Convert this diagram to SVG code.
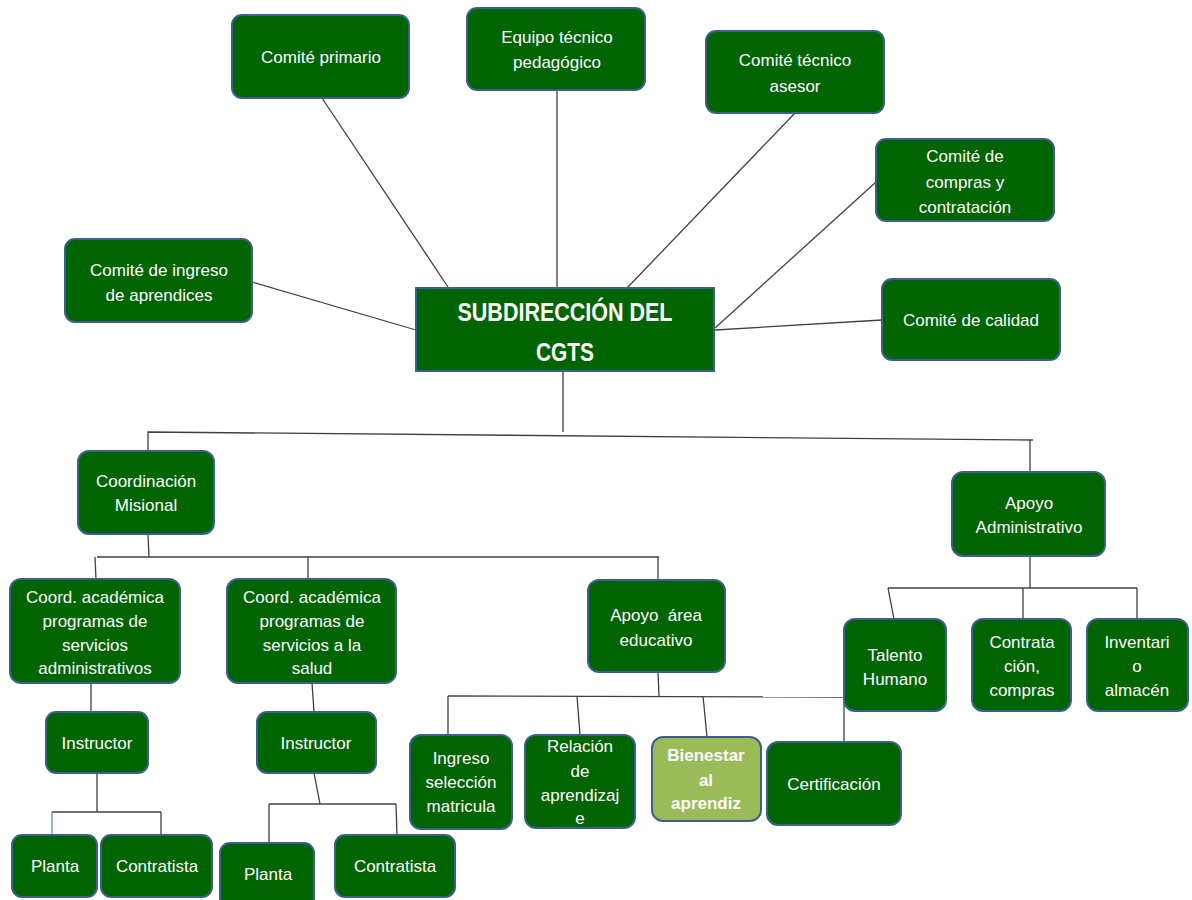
<svg xmlns="http://www.w3.org/2000/svg" width="1192" height="900" viewBox="0 0 1192 900">
<style>
.n{fill:#006400;stroke:#3b5f8f;stroke-width:2}
.b{fill:#9bbb59;stroke:#3b5f8f;stroke-width:2}
.t{font-family:"Liberation Sans",Arial,sans-serif;font-size:17px;fill:#ffffff;text-anchor:middle}
.tb{font-weight:bold}
.h{font-family:"Liberation Sans",Arial,sans-serif;font-size:25px;font-weight:bold;fill:#ffffff;text-anchor:middle}
#connectors line,#connectors polyline{stroke:#404040;stroke-width:1.3;fill:none}
</style>
<rect width="1192" height="900" fill="#ffffff"/>
<g id="connectors">
<line x1="322" y1="98" x2="448" y2="287"/>
<line x1="557" y1="90" x2="557" y2="288"/>
<line x1="795" y1="113" x2="627" y2="288"/>
<line x1="876" y1="182" x2="715" y2="328"/>
<line x1="882" y1="320" x2="715" y2="330"/>
<line x1="252" y1="282" x2="416" y2="330"/>
<line x1="563" y1="372" x2="563" y2="432"/>
<polyline points="148,451 148,432 1033,440"/>
<line x1="1030" y1="440" x2="1030" y2="472"/>
<line x1="148" y1="534" x2="149" y2="557"/>
<line x1="97" y1="557" x2="659" y2="557"/>
<line x1="95" y1="557" x2="96" y2="579"/>
<line x1="308" y1="557" x2="308" y2="579"/>
<line x1="658" y1="557" x2="658" y2="580"/>
<line x1="91" y1="683" x2="91" y2="712"/>
<line x1="97" y1="773" x2="97" y2="812"/>
<line x1="52" y1="812" x2="161" y2="812"/>
<line x1="52" y1="812" x2="52" y2="835" style="stroke:#5b8fd0"/>
<line x1="161" y1="812" x2="161" y2="835"/>
<line x1="312" y1="683" x2="314" y2="712"/>
<line x1="314" y1="773" x2="320" y2="804"/>
<line x1="269" y1="804" x2="396" y2="804"/>
<line x1="269" y1="804" x2="269" y2="843"/>
<line x1="396" y1="804" x2="397" y2="835"/>
<line x1="658" y1="672" x2="659" y2="696"/>
<line x1="448" y1="696" x2="844" y2="697"/>
<line x1="448" y1="696" x2="448" y2="735"/>
<line x1="577" y1="696" x2="580" y2="735"/>
<line x1="703" y1="696" x2="707" y2="737"/>
<line x1="844" y1="697" x2="844" y2="742"/>
<line x1="1030" y1="556" x2="1030" y2="588"/>
<line x1="888" y1="588" x2="1137" y2="588"/>
<line x1="888" y1="588" x2="894" y2="619"/>
<line x1="1023" y1="588" x2="1023" y2="619"/>
<line x1="1137" y1="588" x2="1137" y2="619"/>
</g>
<g id="comite-primario"><rect class="n" x="232" y="15" width="177" height="83" rx="10"/><text class="t" x="321" y="63">Comité primario</text></g>
<g id="equipo-tecnico"><rect class="n" x="467" y="8" width="178" height="82" rx="10"/><text class="t" x="557" y="43">Equipo técnico</text><text class="t" x="557" y="68">pedagógico</text></g>
<g id="comite-tecnico"><rect class="n" x="706" y="31" width="178" height="82" rx="10"/><text class="t" x="795" y="66">Comité técnico</text><text class="t" x="795" y="92">asesor</text></g>
<g id="comite-compras"><rect class="n" x="876" y="139" width="178" height="82" rx="10"/><text class="t" x="965" y="162">Comité de</text><text class="t" x="965" y="188">compras y</text><text class="t" x="965" y="213">contratación</text></g>
<g id="comite-calidad"><rect class="n" x="882" y="279" width="178" height="81" rx="10"/><text class="t" x="971" y="326">Comité de calidad</text></g>
<g id="comite-ingreso"><rect class="n" x="65" y="239" width="187" height="83" rx="10"/><text class="t" x="159" y="276">Comité de ingreso</text><text class="t" x="159" y="301">de aprendices</text></g>
<g id="subdireccion"><rect class="n" x="416" y="288" width="298" height="83" rx="0"/><text class="h" x="565" y="321" textLength="215" lengthAdjust="spacingAndGlyphs">SUBDIRECCIÓN DEL</text><text class="h" x="565" y="361" textLength="58" lengthAdjust="spacingAndGlyphs">CGTS</text></g>
<g id="coord-misional"><rect class="n" x="78" y="451" width="136" height="83" rx="11"/><text class="t" x="146" y="487">Coordinación</text><text class="t" x="146" y="511">Misional</text></g>
<g id="apoyo-administrativo"><rect class="n" x="952" y="472" width="153" height="84" rx="11"/><text class="t" x="1029" y="509">Apoyo</text><text class="t" x="1029" y="533">Administrativo</text></g>
<g id="coord-adm"><rect class="n" x="10" y="579" width="170" height="104" rx="11"/><text class="t" x="95" y="603">Coord. académica</text><text class="t" x="95" y="627">programas de</text><text class="t" x="95" y="651">servicios</text><text class="t" x="95" y="674">administrativos</text></g>
<g id="coord-salud"><rect class="n" x="227" y="579" width="169" height="104" rx="11"/><text class="t" x="312" y="603">Coord. académica</text><text class="t" x="312" y="627">programas de</text><text class="t" x="312" y="651">servicios a la</text><text class="t" x="312" y="674">salud</text></g>
<g id="apoyo-educativo"><rect class="n" x="588" y="580" width="137" height="92" rx="11"/><text class="t" x="656" y="621" style="white-space:pre">Apoyo  área</text><text class="t" x="656" y="646">educativo</text></g>
<g id="talento-humano"><rect class="n" x="844" y="619" width="102" height="92" rx="11"/><text class="t" x="895" y="661">Talento</text><text class="t" x="895" y="685">Humano</text></g>
<g id="contratacion"><rect class="n" x="972" y="619" width="99" height="92" rx="11"/><text class="t" x="1022" y="648">Contrata</text><text class="t" x="1022" y="672">ción,</text><text class="t" x="1022" y="696">compras</text></g>
<g id="inventario"><rect class="n" x="1087" y="619" width="101" height="92" rx="11"/><text class="t" x="1137" y="648">Inventari</text><text class="t" x="1137" y="672">o</text><text class="t" x="1137" y="696">almacén</text></g>
<g id="instructor-1"><rect class="n" x="46" y="712" width="102" height="61" rx="10"/><text class="t" x="97" y="749">Instructor</text></g>
<g id="instructor-2"><rect class="n" x="257" y="712" width="119" height="61" rx="10"/><text class="t" x="316" y="749">Instructor</text></g>
<g id="ingreso"><rect class="n" x="410" y="735" width="102" height="94" rx="11"/><text class="t" x="461" y="764">Ingreso</text><text class="t" x="461" y="788">selección</text><text class="t" x="461" y="812">matricula</text></g>
<g id="relacion"><rect class="n" x="525" y="735" width="110" height="93" rx="11"/><text class="t" x="580" y="752">Relación</text><text class="t" x="580" y="777">de</text><text class="t" x="580" y="801">aprendizaj</text><text class="t" x="580" y="824">e</text></g>
<g id="bienestar"><rect class="b" x="652" y="737" width="109" height="84" rx="11"/><text class="t tb" x="706" y="761">Bienestar</text><text class="t tb" x="706" y="786">al</text><text class="t tb" x="706" y="809">aprendiz</text></g>
<g id="certificacion"><rect class="n" x="767" y="742" width="134" height="83" rx="11"/><text class="t" x="834" y="790">Certificación</text></g>
<g id="planta-1"><rect class="n" x="12" y="835" width="85" height="62" rx="10"/><text class="t" x="55" y="872">Planta</text></g>
<g id="contratista-1"><rect class="n" x="101" y="835" width="111" height="62" rx="10"/><text class="t" x="157" y="872">Contratista</text></g>
<g id="planta-2"><rect class="n" x="220" y="843" width="94" height="70" rx="10"/><text class="t" x="268" y="880">Planta</text></g>
<g id="contratista-2"><rect class="n" x="335" y="835" width="120" height="62" rx="10"/><text class="t" x="395" y="872">Contratista</text></g>
</svg>
